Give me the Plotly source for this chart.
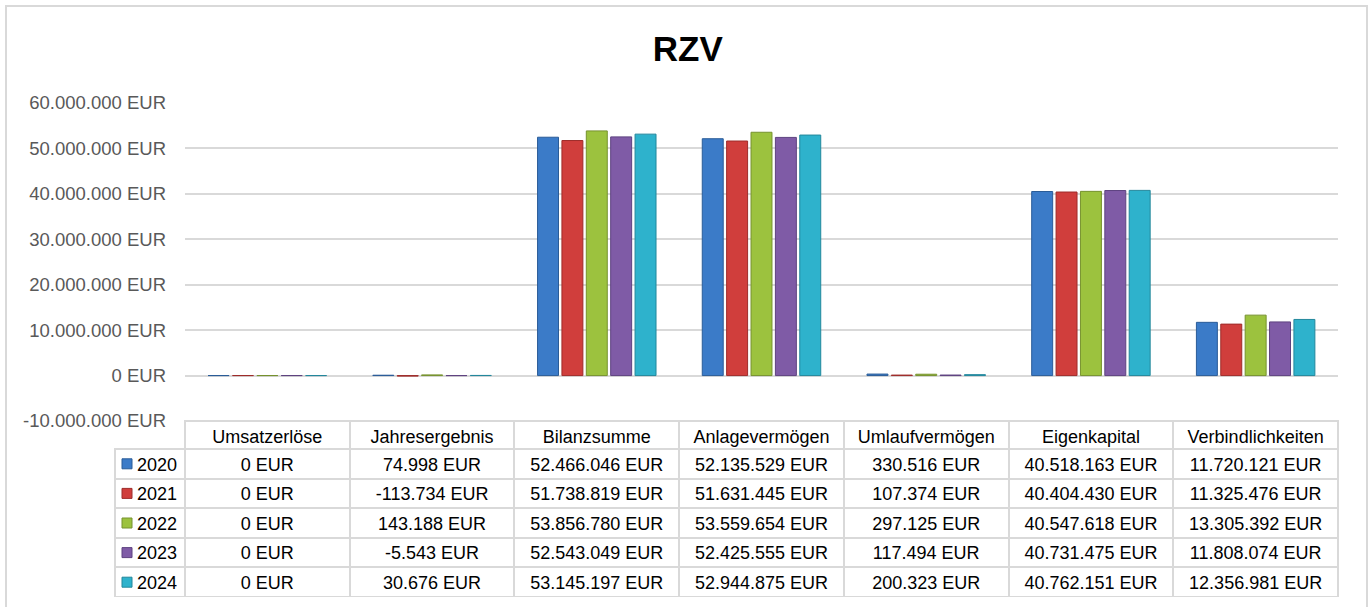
import plotly.graph_objects as go

categories = ["Umsatzerlöse", "Jahresergebnis", "Bilanzsumme", "Anlagevermögen",
              "Umlaufvermögen", "Eigenkapital", "Verbindlichkeiten"]
years = ["2020", "2021", "2022", "2023", "2024"]

v2020 = [0, 74998, 52466046, 52135529, 330516, 40518163, 11720121]
v2021 = [0, -113734, 51738819, 51631445, 107374, 40404430, 11325476]
v2022 = [0, 143188, 53856780, 53559654, 297125, 40547618, 13305392]
v2023 = [0, -5543, 52543049, 52425555, 117494, 40731475, 11808074]
v2024 = [0, 30676, 53145197, 52944875, 200323, 40762151, 12356981]
series = [v2020, v2021, v2022, v2023, v2024]

y_ticks = [-10000000, 0, 10000000, 20000000, 30000000, 40000000, 50000000, 60000000]

colors = ["#3B7BC8", "#D03E3C", "#9CC23E", "#7F5BA6", "#2EB2CC"]
line_colors = ["#2A5C98", "#9E2C2A", "#76922E", "#5E4380", "#23879C"]

FONT = "Liberation Sans, Arial, sans-serif"
W, H = 1370, 607
# pixel layout
L, R, T, B = 115, 32, 103, 10
plot_left, axis_bottom = 185, 421
HEADER_H, ROW_H = 28, 29.6
pw, ph = W - L - R, H - T - B
x_dom0 = (plot_left - L) / pw
y_dom0 = (H - B - axis_bottom) / ph


def fmt(v):
    s = f"{abs(v):,}".replace(",", ".")
    return ("-" if v < 0 else "") + s + " EUR"


def px_x(p):
    return (p - L) / pw


def px_y(p):
    return (H - B - p) / ph


fig = go.Figure()
for name, vals, c, lc in zip(years, series, colors, line_colors):
    fig.add_trace(go.Bar(x=categories, y=vals, name=name,
                         marker=dict(color=c, line=dict(color=lc, width=1)),
                         showlegend=False))

# table
header_vals = [""] + categories
cols = [years]
for i in range(len(categories)):
    cols.append([fmt(s[i]) for s in series])

fig.add_trace(go.Table(
    domain=dict(x=[0, 1], y=[0, y_dom0]),
    columnwidth=[plot_left - L] + [(W - R - plot_left) / 7] * 7,
    header=dict(values=header_vals, height=HEADER_H,
                fill=dict(color=["rgba(0,0,0,0)"] + ["white"] * 7),
                line=dict(color=["rgba(0,0,0,0)"] + ["#D9D9D9"] * 7, width=2),
                align="center",
                font=dict(family=FONT, size=18, color="#000000")),
    cells=dict(values=cols, height=ROW_H,
               fill=dict(color="white"),
               line=dict(color="#D9D9D9", width=2),
               align=["right"] + ["center"] * 7,
               font=dict(family=FONT, size=18, color="#000000")),
))

# legend keys in the first table column
shapes = [dict(type="rect", xref="paper", yref="paper",
               x0=px_x(6), x1=px_x(1367), y0=px_y(615), y1=px_y(6),
               line=dict(color="#D9D9D9", width=2), fillcolor="rgba(0,0,0,0)",
               layer="below")]
for i, (c, lc) in enumerate(zip(colors, line_colors)):
    cy = axis_bottom + HEADER_H + ROW_H * (i + 0.5)
    shapes.append(dict(type="rect", xref="paper", yref="paper",
                       x0=px_x(122), x1=px_x(132), y0=px_y(cy + 5), y1=px_y(cy - 5),
                       fillcolor=c, line=dict(color=lc, width=1), layer="above"))

fig.update_layout(
    width=W, height=H,
    margin=dict(l=L, r=R, t=T, b=B, autoexpand=False),
    paper_bgcolor="white", plot_bgcolor="white",
    barmode="group", bargap=0.26, bargroupgap=0.14,
    title=dict(text="<b>RZV</b>", x=0.502, xref="container", xanchor="center",
               y=1 - 49 / H, yref="container", yanchor="middle",
               font=dict(family=FONT, size=35, color="#000000")),
    font=dict(family=FONT),
    xaxis=dict(domain=[x_dom0, 1], showticklabels=False, showgrid=False,
               zeroline=False, showline=False, ticks=""),
    yaxis=dict(domain=[y_dom0, 1], range=[-10000000, 60000000],
               tickmode="array", tickvals=y_ticks,
               ticktext=[fmt(v) for v in y_ticks], showgrid=True,
               gridcolor="#D9D9D9", gridwidth=2, zeroline=False,
               showline=False, ticks="", automargin=False, ticklabelstandoff=18,
               tickfont=dict(family=FONT, size=18.5, color="#595959")),
    shapes=shapes,
)

fig.write_html("out.html", config={"displayModeBar": False},
               post_script="document.body.style.margin='0';")
